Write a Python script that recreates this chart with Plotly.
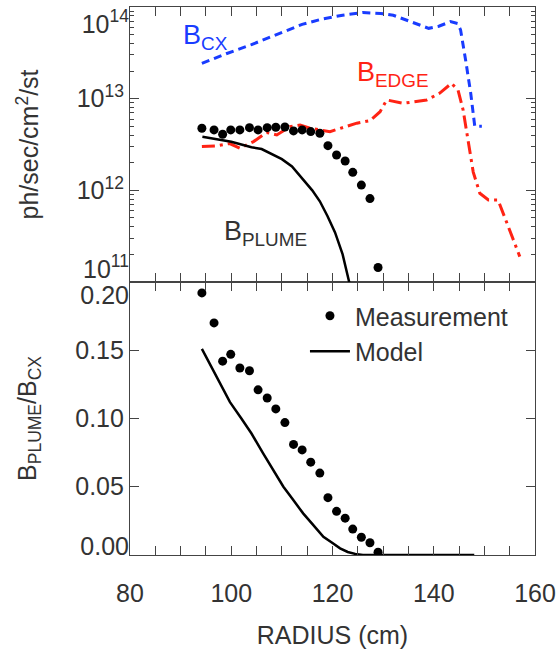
import plotly.graph_objects as go

# ---------------- data ----------------
radius_meas = [94.2, 96.6, 98.3, 99.9, 101.7, 103.6, 105.3, 107.1, 108.8, 110.6, 112.3,
               114.0, 115.7, 117.5, 119.1, 120.8, 122.5, 124.0, 125.7, 127.4, 129.0]
bplume_meas = [4.75e12, 4.56e12, 4.09e12, 4.56e12, 4.56e12, 4.83e12, 4.56e12, 4.83e12,
               4.88e12, 4.91e12, 4.45e12, 4.56e12, 4.37e12, 4.19e12, 3.07e12, 2.43e12,
               2.09e12, 1.57e12, 1.14e12, 8.13e11, 1.44e11]
ratio_meas = [0.192, 0.170, 0.142, 0.147, 0.137, 0.135, 0.121, 0.115, 0.107, 0.097, 0.081,
              0.077, 0.068, 0.060, 0.042, 0.032, 0.027, 0.019, 0.013, 0.009, 0.002]

radius_model = [94.3, 96, 98, 100, 102, 104, 106, 108, 110, 112, 114, 116, 117.5, 119,
                120.5, 122, 123.2, 123.5]
bplume_model = [3.85e12, 3.72e12, 3.55e12, 3.39e12, 3.16e12, 2.95e12, 2.82e12, 2.51e12,
                2.19e12, 1.82e12, 1.35e12, 1.0e12, 7.59e11, 5.25e11, 3.47e11, 2.0e11,
                1.05e11, 8.9e10]

radius_ratio_model = [94.2, 97, 99.75, 102, 104, 106.3, 108, 110.3, 112, 114.2, 116, 118.2,
                      120, 121.5, 123, 124.5, 126, 148]
ratio_model = [0.151, 0.131, 0.112, 0.100, 0.089, 0.0745, 0.064, 0.050, 0.0415, 0.0305,
               0.0228, 0.0134, 0.0088, 0.0049, 0.0022, 0.0008, 0.0, 0.0]

radius_cx = [94.2, 99, 104, 109, 114, 118, 122, 126, 129.5, 132, 135, 139, 141, 143.3,
             144.7, 145.3, 146.3, 147.3, 148.1, 149.5]
bcx = [2.43e13, 3.09e13, 3.89e13, 5.01e13, 6.46e13, 7.41e13, 8.13e13, 8.71e13, 8.51e13,
       8.13e13, 7.08e13, 5.85e13, 6.17e13, 6.92e13, 6.61e13, 5.62e13, 2.63e13, 1.15e13,
       5.0e12, 5.0e12]

radius_edge = [94.2, 97, 99.7, 101.7, 104.4, 107, 109, 111.6, 113.6, 115.6, 119.5, 121.5,
               124.8, 127.4, 129.4, 130.7, 134, 138.6, 141.2, 143.5, 144.8, 145.8, 146.8,
               147.8, 149.1, 150.8, 152.7, 153.7, 155.7, 157.0]
bedge = [3.0e12, 3.05e12, 3.24e12, 2.88e12, 3.40e12, 4.27e12, 4.02e12, 4.95e12, 5.16e12,
         4.75e12, 4.37e12, 4.75e12, 5.40e12, 5.75e12, 7.21e12, 9.68e12, 8.91e12, 9.68e12,
         1.15e13, 1.47e13, 1.24e13, 7.53e12, 3.55e12, 1.58e12, 9.29e11, 7.85e11, 7.85e11,
         5.62e11, 2.88e11, 1.89e11]

x_ticks = [80, 100, 120, 140, 160]
log_tickvals = [1e11, 1e12, 1e13, 1e14]
log_ticktext = ["10<sup>11</sup>", "10<sup>12</sup>", "10<sup>13</sup>", "10<sup>14</sup>"]
ratio_tickvals = [0.0, 0.05, 0.10, 0.15, 0.20]
ratio_ticktext = ["0.00", "0.05", "0.10", "0.15", "0.20"]

# ---------------- styling ----------------
FONT = "Liberation Sans, Arial, Helvetica, sans-serif"
TXT = "#333333"
AX = "#444444"
BLUE = "rgb(25,60,255)"
RED = "rgb(255,35,20)"
SPLIT = 0.4982

fig = go.Figure()

# top panel
fig.add_trace(go.Scatter(x=radius_cx, y=bcx, mode="lines", xaxis="x2", yaxis="y2",
                         line=dict(color=BLUE, width=3, dash="8px,5px"), showlegend=False))
fig.add_trace(go.Scatter(x=radius_edge, y=bedge, mode="lines", xaxis="x2", yaxis="y2",
                         line=dict(color=RED, width=3, dash="13px,5px,3px,5px"), showlegend=False))
fig.add_trace(go.Scatter(x=radius_model, y=bplume_model, mode="lines", xaxis="x2", yaxis="y2",
                         line=dict(color="black", width=2.5), showlegend=False))
fig.add_trace(go.Scatter(x=radius_meas, y=bplume_meas, mode="markers", xaxis="x2", yaxis="y2",
                         marker=dict(color="black", size=9), showlegend=False))

# bottom panel
fig.add_trace(go.Scatter(x=radius_meas, y=ratio_meas, mode="markers", xaxis="x", yaxis="y",
                         name="Measurement", marker=dict(color="black", size=9)))
fig.add_trace(go.Scatter(x=radius_ratio_model, y=ratio_model, mode="lines", xaxis="x", yaxis="y",
                         name="Model", line=dict(color="black", width=2.5)))

# invisible carriers for edge-label axes
for ya in ["y3", "y4"]:
    fig.add_trace(go.Scatter(x=[None], y=[None], xaxis="x", yaxis=ya, showlegend=False,
                             hoverinfo="skip"))
for ya in ["y5", "y6"]:
    fig.add_trace(go.Scatter(x=[None], y=[None], xaxis="x2", yaxis=ya, showlegend=False,
                             hoverinfo="skip"))

common = dict(showgrid=False, zeroline=False, showline=True, linecolor=AX, linewidth=1.1,
              mirror="allticks", ticks="inside", tickcolor=AX, tickwidth=1.2, automargin=False,
              tickfont=dict(family=FONT, size=25, color=TXT))

xminor = dict(dtick=5, tick0=80, ticks="inside", ticklen=4, tickcolor=AX, tickwidth=1)

edge = dict(ticks="", showline=False, showgrid=False, zeroline=False, automargin=False,
            tickfont=dict(family=FONT, size=25, color=TXT))

fig.update_layout(
    width=560, height=654,
    margin=dict(l=130, r=25, t=7, b=99, autoexpand=False),
    paper_bgcolor="white", plot_bgcolor="white",
    font=dict(family=FONT, color=TXT),
    xaxis=dict(**common, range=[80, 160], tickvals=x_ticks, ticklen=9, minor=xminor,
               anchor="y", domain=[0, 1], ticklabelstandoff=16,
               title=dict(text="RADIUS (cm)", font=dict(family=FONT, size=25, color=TXT),
                          standoff=20)),
    xaxis2=dict(**common, range=[80, 160], tickvals=x_ticks, ticklen=9, minor=xminor,
                anchor="y2", matches="x", showticklabels=False),
    yaxis=dict(**common, range=[0, 0.20], tickvals=ratio_tickvals,
               ticktext=["", "0.05", "0.10", "0.15", ""], ticklen=9,
               domain=[0, SPLIT], anchor="x",
               title=dict(text="B<sub>PLUME</sub>/B<sub>CX</sub>",
                          font=dict(family=FONT, size=25, color=TXT), standoff=31)),
    yaxis2=dict(**common, type="log", range=[11, 14], tickvals=log_tickvals,
                ticktext=["", log_ticktext[1], log_ticktext[2], ""], ticklen=9,
                minor=dict(tickvals=[k * 10 ** e for e in (11, 12, 13) for k in range(2, 10)],
                           ticks="inside", ticklen=4, tickcolor=AX, tickwidth=1),
                domain=[SPLIT, 1], anchor="x2",
                title=dict(text="ph/sec/cm<sup>2</sup>/st",
                           font=dict(family=FONT, size=25, color=TXT), standoff=30)),
    yaxis3=dict(**edge, overlaying="y", anchor="x", range=[0, 0.20], tickvals=[0.20],
                ticktext=[ratio_ticktext[4]], ticklabelshift=13),
    yaxis4=dict(**edge, overlaying="y", anchor="x", range=[0, 0.20], tickvals=[0.0],
                ticktext=[ratio_ticktext[0]], ticklabelshift=-9),
    yaxis5=dict(**edge, overlaying="y2", anchor="x2", type="log", range=[11, 14],
                tickvals=[1e14], ticktext=[log_ticktext[3]], ticklabelshift=17),
    yaxis6=dict(**edge, overlaying="y2", anchor="x2", type="log", range=[11, 14],
                tickvals=[1e11], ticktext=[log_ticktext[0]], ticklabelshift=-13),
    legend=dict(x=0.432, y=0.478, xanchor="left", yanchor="top", itemwidth=40,
                font=dict(family=FONT, size=25, color=TXT), bgcolor="rgba(0,0,0,0)",
                tracegroupgap=0),
    annotations=[
        dict(text="B<sub>CX</sub>", x=90.1, y=13.67, xref="x2", yref="y2", showarrow=False,
             xanchor="left", yanchor="middle", font=dict(family=FONT, size=27, color=BLUE)),
        dict(text="B<sub>EDGE</sub>", x=124.4, y=13.27, xref="x2", yref="y2", showarrow=False,
             xanchor="left", yanchor="middle", font=dict(family=FONT, size=27, color=RED)),
        dict(text="B<sub>PLUME</sub>", x=98.2, y=11.535, xref="x2", yref="y2", showarrow=False,
             xanchor="left", yanchor="middle", font=dict(family=FONT, size=27, color=TXT)),
    ],
)

fig.write_html("out.html", config={"displayModeBar": False},
               post_script="document.body.style.margin='0';")
